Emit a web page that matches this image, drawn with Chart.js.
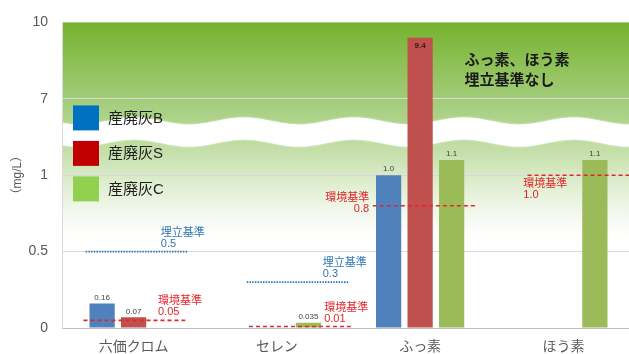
<!DOCTYPE html>
<html lang="ja">
<head>
<meta charset="utf-8">
<title>産廃灰の溶出量</title>
<script src="https://cdn.jsdelivr.net/npm/chart.js@4"></script>
<style>
html, body { margin: 0; padding: 0; background: #fff; overflow: hidden; }
#wrap { position: relative; width: 635px; height: 354px; }
</style>
</head>
<body>
<div id="wrap"><canvas id="leachChart"></canvas></div>
<script>
const categories = ['六価クロム', 'セレン', 'ふっ素', 'ほう素'];
const seriesNames = ['産廃灰B', '産廃灰S', '産廃灰C'];
const ashB = [0.16, null, 1.0, null];
const ashS = [0.07, null, 9.4, null];
const ashC = [null, 0.035, 1.1, 1.1];
const yTickValues = [0, 0.5, 1, 7, 10];

// 基準値（項目ごと）
const stdNames = ['環境基準', '埋立基準', '埋立基準', '環境基準', '環境基準', '環境基準'];
const stdCats = [0, 0, 1, 1, 2, 3];
const stdValues = [0.05, 0.5, 0.3, 0.01, 0.8, 1.0];
const noteLines = ['ふっ素、ほう素', '埋立基準なし'];

const FONT = "'Liberation Sans', 'Noto Sans CJK JP', sans-serif";
const barColors = ['#4f81bd', '#c0504d', '#9bbb59'];
const legendColors = ['#0070c0', '#c00000', '#92d050'];
const stdColors = {'環境基準': '#e3262b', '埋立基準': '#2e75b6'};

// 線の位置とラベル位置（カテゴリ幅に対する割合 / px）
const stdLayout = [
  {from: -0.35, to: 0.36, tx: 0.17, ty: -19, align: 'left'},
  {from: -0.335, to: 0.377, tx: 0.19, ty: -19, align: 'left'},
  {from: -0.21, to: 0.5, tx: 0.32, ty: -19, align: 'left'},
  {from: -0.195, to: 0.516, tx: 0.33, ty: -19, align: 'left'},
  {from: -0.33, to: 0.39, tx: -0.356, ty: -8, align: 'right'},
  {from: -0.25, to: 0.6, tx: -0.28, ty: 9, align: 'left'}
];

// 縦軸の省略：0〜1.2 は等倍、1.2〜7 は圧縮、7〜10 は上段
function axisPos(v) {
  if (v == null) return null;
  if (v <= 1.2) return v * 2;
  if (v <= 7) return 2.4 + (v - 1.2) / 5.8 * 0.6;
  return 3 + (v - 7) / 3;
}

function fmt(v) {
  return v >= 1 ? v.toFixed(1) : String(v);
}

const backdrop = {
  id: 'backdrop',
  beforeDraw(chart) {
    const {ctx, chartArea: a, scales: {y}} = chart;
    ctx.save();
    const g = ctx.createLinearGradient(0, a.top, 0, a.bottom);
    g.addColorStop(0, '#76b22f');
    g.addColorStop(0.12, '#8bbf52');
    g.addColorStop(0.25, '#a2cc79');
    g.addColorStop(0.33, '#b0d58d');
    g.addColorStop(0.42, '#c4dfa9');
    g.addColorStop(0.5, '#d8eac7');
    g.addColorStop(0.6, '#eef6e7');
    g.addColorStop(0.7, '#ffffff');
    g.addColorStop(1, '#ffffff');
    ctx.fillStyle = g;
    ctx.fillRect(a.left, a.top, a.right - a.left, a.bottom - a.top);

    // 省略部分の白い波
    const top = y.getPixelForValue(2.71);
    const bot = y.getPixelForValue(2.42);
    const wave = x => 3.5 * Math.sin((x - a.left) / 110 * Math.PI * 2 + 0.6);
    ctx.beginPath();
    ctx.moveTo(a.left, top + wave(a.left));
    for (let x = a.left; x <= a.right; x += 2) ctx.lineTo(x, top + wave(x));
    for (let x = a.right; x >= a.left; x -= 2) ctx.lineTo(x, bot + wave(x));
    ctx.closePath();
    ctx.fillStyle = '#ffffff';
    ctx.shadowColor = 'rgba(255,255,255,0.9)';
    ctx.shadowBlur = 2;
    ctx.fill();
    ctx.restore();
  }
};

const overlay = {
  id: 'overlay',
  afterDatasetsDraw(chart) {
    const {ctx, chartArea: a, scales: {x, y}} = chart;
    const catW = (a.right - a.left) / categories.length;
    ctx.save();

    // 値ラベル
    chart.data.datasets.forEach((ds, di) => {
      chart.getDatasetMeta(di).data.forEach((bar, i) => {
        const v = ds.raw[i];
        if (v == null) return;
        ctx.textAlign = 'center';
        ctx.textBaseline = 'middle';
        if (v > 7) {
          ctx.font = 'bold 8px ' + FONT;
          ctx.fillStyle = '#3b1512';
          ctx.fillText(fmt(v), bar.x, bar.y + 8);
        } else {
          ctx.font = '8px ' + FONT;
          ctx.fillStyle = '#404040';
          ctx.fillText(fmt(v), bar.x, bar.y - 6);
        }
      });
    });

    // 基準線
    stdValues.forEach((v, i) => {
      const L = stdLayout[i];
      const cx = x.getPixelForValue(stdCats[i]);
      const py = y.getPixelForValue(axisPos(v));
      const color = stdColors[stdNames[i]];
      ctx.beginPath();
      ctx.moveTo(cx + L.from * catW, py);
      ctx.lineTo(Math.min(a.right, cx + L.to * catW), py);
      ctx.strokeStyle = color;
      ctx.lineWidth = 1.6;
      ctx.setLineDash(stdNames[i] === '環境基準' ? [4, 3] : [1.5, 1.2]);
      ctx.stroke();
      ctx.setLineDash([]);
      ctx.font = '11px ' + FONT;
      ctx.fillStyle = color;
      ctx.textAlign = L.align;
      ctx.textBaseline = 'middle';
      const tx = cx + L.tx * catW;
      ctx.fillText(stdNames[i], tx, py + L.ty);
      ctx.fillText(fmt(v), tx, py + L.ty + 11);
    });

    // 凡例
    ctx.textAlign = 'left';
    ctx.textBaseline = 'middle';
    ctx.font = '15px ' + FONT;
    seriesNames.forEach((name, i) => {
      const top = a.top + 83 + i * 35.5;
      ctx.fillStyle = legendColors[i];
      ctx.fillRect(a.left + 11, top, 26, 25);
      ctx.fillStyle = '#1e1e1e';
      ctx.fillText(name, a.left + 46, top + 13);
    });

    // 注記
    ctx.font = 'bold 15px ' + FONT;
    ctx.fillStyle = '#1a1a1a';
    const nx = x.getPixelForValue(2) + 0.31 * catW;
    noteLines.forEach((t, i) => ctx.fillText(t, nx, a.top + 38 + i * 20));
    ctx.restore();
  }
};

new Chart(document.getElementById('leachChart'), {
  type: 'bar',
  data: {
    labels: categories,
    datasets: [ashB, ashS, ashC].map((vals, i) => ({
      label: seriesNames[i],
      data: vals.map(axisPos),
      raw: vals,
      backgroundColor: barColors[i],
      borderWidth: 0
    }))
  },
  options: {
    responsive: true,
    maintainAspectRatio: false,
    animation: false,
    layout: {padding: {top: 19, left: 0, right: 0, bottom: 0}},
    datasets: {bar: {categoryPercentage: 0.66, barPercentage: 0.8}},
    plugins: {legend: {display: false}, tooltip: {enabled: false}},
    scales: {
      x: {
        grid: {display: false, drawTicks: false},
        border: {color: '#bfbfbf'},
        ticks: {color: '#595959', font: {family: FONT, size: 14}, padding: 11},
        afterFit(s) { s.height = 26; }
      },
      y: {
        min: 0,
        max: 4,
        ticks: {
          stepSize: 1,
          padding: 14,
          color: '#595959',
          font: {family: FONT, size: 14},
          callback: v => String(yTickValues[v])
        },
        grid: {
          drawTicks: false,
          color: c => c.index === 0 ? '#bfbfbf' : (c.index === 4 ? 'rgba(0,0,0,0)' : '#d9d9d9')
        },
        border: {display: true, color: '#d9d9d9'},
        title: {
          display: true,
          text: '（mg/L）',
          color: '#595959',
          font: {family: FONT, size: 12},
          padding: {top: 10, bottom: 0}
        },
        afterFit(s) { s.width = 62; }
      }
    }
  },
  plugins: [backdrop, overlay]
});
</script>
</body>
</html>
